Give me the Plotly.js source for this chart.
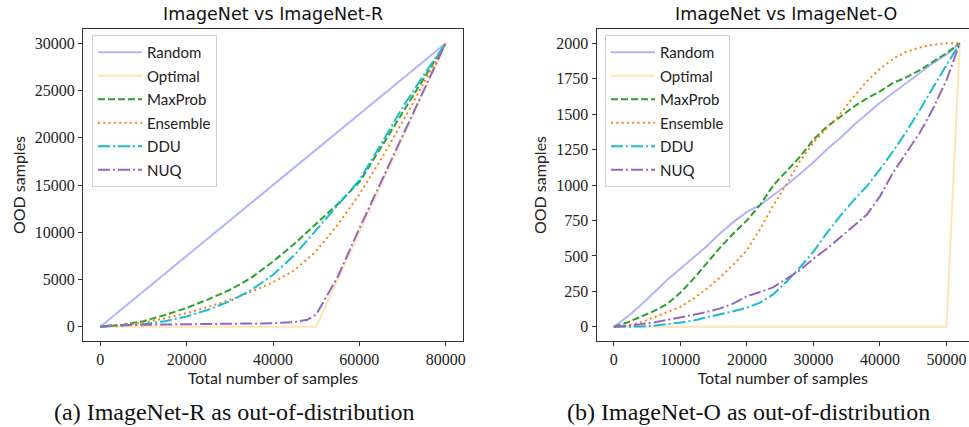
<!DOCTYPE html>
<html>
<head>
<meta charset="utf-8">
<script src="https://cdn.plot.ly/plotly-3.0.1.min.js"></script>
<style>html,body{margin:0;padding:0;background:#fff}#chart{width:969px;height:427px}</style>
</head>
<body>
<div id="chart"></div>
<script>
// ---------- Data: ImageNet vs ImageNet-R ----------
const xR = [0,5000,10000,15000,20000,25000,30000,35000,40000,45000,50000,55000,60000,65000,70000,75000,80000];
const randomRx = [0, 80000];
const randomR = [0, 30000];
const optimalRx = [0, 50000, 80000];
const optimalR = [0, 0, 30000];
const maxprobR = [0,200,600,1250,2000,2900,3900,5200,6900,8800,10900,13000,15300,19000,22700,26400,30000];
const ensembleR = [0,150,450,900,1450,2100,2850,3700,4700,6000,8000,10800,14000,17700,21700,25800,30000];
const dduR = [0,100,280,600,1100,1800,2700,3900,5500,7600,10200,12900,15500,19300,23200,26700,30000];
const nuqRx = [0,2000,10000,20000,30000,40000,45000,48000,50000,52000,55000,60000,65000,70000,75000,80000];
const nuqR = [0,150,220,260,300,380,500,750,1300,2900,5300,10400,15300,20300,25200,30000];

// ---------- Data: ImageNet vs ImageNet-O ----------
const xO = [0,2000,4000,6000,8000,10000,12000,14000,16000,18000,20000,22000,24000,26000,28000,30000,32000,34000,36000,38000,40000,42000,44000,46000,48000,50000,52000];
const randomO = [0,70,150,240,330,410,490,570,660,740,810,860,930,1000,1080,1160,1250,1330,1420,1500,1580,1650,1720,1790,1860,1920,2000];
const optimalOx = [0, 50000, 52000];
const optimalO = [0, 0, 2000];
const maxprobO = [0,30,70,110,160,240,340,450,560,660,750,860,1000,1100,1200,1320,1410,1480,1550,1610,1660,1720,1760,1810,1870,1930,2000];
const ensembleO = [0,10,30,65,100,140,200,270,350,440,540,690,860,1010,1170,1300,1400,1500,1620,1730,1820,1890,1940,1970,1990,2000,2000];
const dduO = [0,0,2,8,18,30,45,65,88,110,135,170,230,320,420,530,660,780,890,990,1110,1240,1380,1530,1690,1840,2000];
const nuqO = [0,8,18,30,47,65,85,105,130,165,215,245,280,340,400,480,550,630,710,790,920,1090,1230,1370,1540,1740,2000];

const names = ['Random','Optimal','MaxProb','Ensemble','DDU','NUQ'];
const colors = ['#b3b3ff','#ffe4b5','#2ca02c','#ff7f0e','#17becf','#9467bd'];
const dashes = ['solid','solid','7px,3px','2px,3.3px','12px,3px,2px,3px','12px,3px,2px,3px'];

function mk(i, x, y, xa, ya, leg){
  return {x:x, y:y, type:'scatter', mode:'lines', name:names[i],
    xaxis:xa, yaxis:ya, legend:leg, legendgroup:leg+names[i],
    line:{color:colors[i], width:2, dash:dashes[i]}, hoverinfo:'skip'};
}
const traces = [
  mk(0, randomRx, randomR, 'x', 'y', 'legend'),
  mk(1, optimalRx, optimalR, 'x', 'y', 'legend'),
  mk(2, xR, maxprobR, 'x', 'y', 'legend'),
  mk(3, xR, ensembleR, 'x', 'y', 'legend'),
  mk(4, xR, dduR, 'x', 'y', 'legend'),
  mk(5, nuqRx, nuqR, 'x', 'y', 'legend'),
  mk(0, xO, randomO, 'x2', 'y2', 'legend2'),
  mk(1, optimalOx, optimalO, 'x2', 'y2', 'legend2'),
  mk(2, xO, maxprobO, 'x2', 'y2', 'legend2'),
  mk(3, xO, ensembleO, 'x2', 'y2', 'legend2'),
  mk(4, xO, dduO, 'x2', 'y2', 'legend2'),
  mk(5, xO, nuqO, 'x2', 'y2', 'legend2')
];

const W = 969, H = 427;
const SANS = 'Lato, "DejaVu Sans", sans-serif';
const tickFont = {family:'"Liberation Serif", "DejaVu Serif", serif', size:16, color:'#222'};
const sansFont = {family:SANS, size:16, color:'#222'};
const legFont = {family:SANS, size:15, color:'#222'};
const titleFont = {family:'"DejaVu Sans", sans-serif', size:17.5, color:'#111'};
const axBase = {showgrid:false, zeroline:false, showline:true, linecolor:'#333', linewidth:1,
  ticks:'outside', ticklen:4, tickwidth:1, tickcolor:'#333', tickfont:tickFont,
  tickformat:'d', automargin:false};
const yDom = [1-341/H, 1-29/H];
const legBase = {font:legFont, bgcolor:'rgba(255,255,255,0.85)', bordercolor:'#d0d0d0', borderwidth:1,
  xanchor:'left', yanchor:'top', tracegroupgap:1, traceorder:'grouped', itemwidth:44};

const layout = {
  width:W, height:H, margin:{l:0,r:0,t:0,b:0}, paper_bgcolor:'#fff', plot_bgcolor:'#fff',
  showlegend:true,
  xaxis: Object.assign({}, axBase, {domain:[83/W, 463/W], range:[-4000, 84000], mirror:true,
    tickvals:[0,20000,40000,60000,80000], anchor:'y',
    title:{text:'Total number of samples', font:sansFont, standoff:3}}),
  yaxis: Object.assign({}, axBase, {domain:yDom, range:[-1500, 31500], mirror:true,
    tickvals:[0,5000,10000,15000,20000,25000,30000], anchor:'x',
    title:{text:'OOD samples', font:sansFont, standoff:5}}),
  xaxis2: Object.assign({}, axBase, {domain:[596.5/W, 1], range:[-2600, 53380], mirror:true,
    tickvals:[0,10000,20000,30000,40000,50000], anchor:'y2',
    title:{text:'Total number of samples', font:sansFont, standoff:3}}),
  yaxis2: Object.assign({}, axBase, {domain:yDom, range:[-100, 2100], mirror:false,
    tickvals:[0,250,500,750,1000,1250,1500,1750,2000], anchor:'x2',
    title:{text:'OOD samples', font:sansFont, standoff:5}}),
  legend: Object.assign({}, legBase, {x:92/W, y:1-35/H}),
  legend2: Object.assign({}, legBase, {x:605/W, y:1-35/H}),
  annotations:[
    {text:'ImageNet vs ImageNet-R', xref:'paper', yref:'paper', x:273/W, y:1-14/H, showarrow:false,
      xanchor:'center', yanchor:'middle', font:titleFont},
    {text:'ImageNet vs ImageNet-O', xref:'paper', yref:'paper', x:785.5/W, y:1-14/H, showarrow:false,
      xanchor:'center', yanchor:'middle', font:titleFont},
    {text:'(a) ImageNet-R as out-of-distribution', xref:'paper', yref:'paper', x:234/W, y:1-412/H, showarrow:false,
      xanchor:'center', yanchor:'middle', font:{family:'"Liberation Serif", serif', size:24, color:'#111'}},
    {text:'(b) ImageNet-O as out-of-distribution', xref:'paper', yref:'paper', x:748/W, y:1-412/H, showarrow:false,
      xanchor:'center', yanchor:'middle', font:{family:'"Liberation Serif", serif', size:24, color:'#111'}}
  ]
};
Plotly.newPlot('chart', traces, layout, {staticPlot:true, displayModeBar:false});
</script>
</body>
</html>
